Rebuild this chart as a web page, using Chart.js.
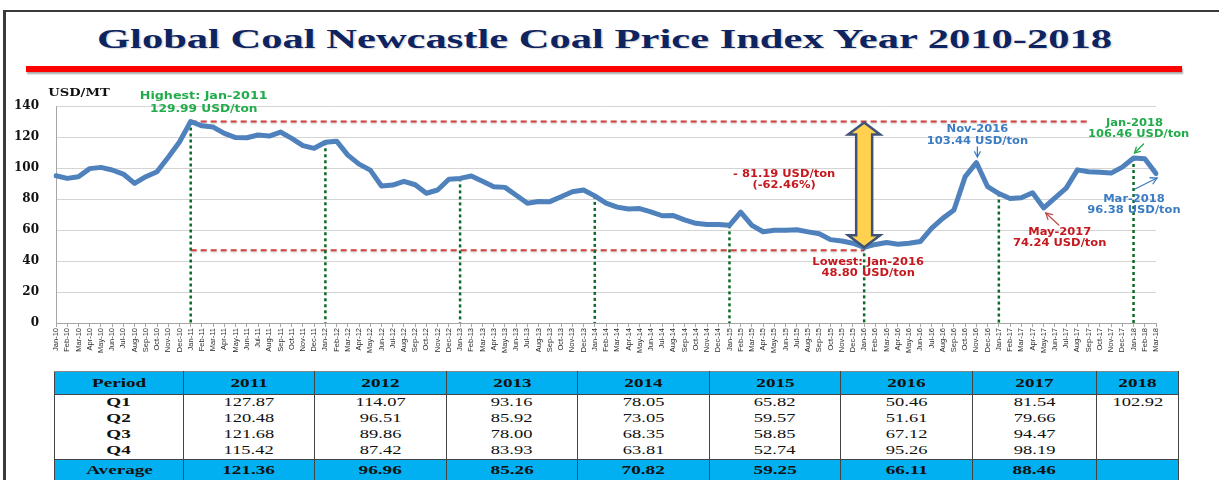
<!DOCTYPE html>
<html>
<head>
<meta charset="utf-8">
<script src="https://cdn.jsdelivr.net/npm/chart.js@4.4.1/dist/chart.umd.min.js"></script>
<style>
  html, body { margin:0; padding:0; background:#fff; }
  body { width:1219px; height:480px; position:relative; overflow:hidden; }
  #frameTop { position:absolute; left:3px; top:10px; width:1216px; height:2px; background:#3a3a3a; }
  #frameLeft { position:absolute; left:3px; top:10px; width:3px; height:470px; background:#3a3a3a; }
  #title { position:absolute; left:0; top:23px; width:1219px; height:34px; }
  #titleText { position:absolute; left:97px; top:0; white-space:nowrap; font-family:"Liberation Serif", serif; font-weight:bold; font-size:28px; color:#0e2461; transform-origin:0 0; text-shadow:1px 1px 1px rgba(0,0,0,0.15); }
  #redBar { position:absolute; left:26px; top:66px; width:1156px; height:6px; background:#ff0000; box-shadow:1px 2px 2px rgba(0,0,0,0.35); }
  #wrap { position:absolute; left:0; top:0; width:1219px; height:365px; }
  table { position:absolute; left:54px; top:371px; border-collapse:collapse; font-family:"Liberation Serif", serif; color:#111; }
  td, th { padding:0; text-align:center; border-left:1px solid #444; border-right:1px solid #444; overflow:hidden; white-space:nowrap; }
  th { background:#00b0f0; height:22px; font-weight:bold; font-size:13.5px; border-top:1px solid #888; border-bottom:1px solid #444; }
  tr.body td { height:16px; font-size:13px; line-height:14px; vertical-align:top; }
  tr.body td.lab { font-weight:bold; font-size:13.5px; }
  tr.avg td { background:#00b0f0; height:22px; font-weight:bold; font-size:13.5px; border-top:1px solid #444; vertical-align:top; line-height:20px; }
  .s { display:inline-block; transform:scaleX(1.42); }
</style>
</head>
<body>
<div id="frameTop"></div>
<div id="frameLeft"></div>
<div id="title"><span id="titleText">Global Coal Newcastle Coal Price Index Year 2010-2018</span></div>
<div id="redBar"></div>
<div id="wrap"><canvas id="c" width="1219" height="365"></canvas></div>
<table id="tbl"></table>
<script>
// ---------------- DATA ----------------
const categories = [
 "Jan-10","Feb-10","Mar-10","Apr-10","May-10","Jun-10","Jul-10","Aug-10","Sep-10","Oct-10","Nov-10","Dec-10",
 "Jan-11","Feb-11","Mar-11","Apr-11","May-11","Jun-11","Jul-11","Aug-11","Sep-11","Oct-11","Nov-11","Dec-11",
 "Jan-12","Feb-12","Mar-12","Apr-12","May-12","Jun-12","Jul-12","Aug-12","Sep-12","Oct-12","Nov-12","Dec-12",
 "Jan-13","Feb-13","Mar-13","Apr-13","May-13","Jun-13","Jul-13","Aug-13","Sep-13","Oct-13","Nov-13","Dec-13",
 "Jan-14","Feb-14","Mar-14","Apr-14","May-14","Jun-14","Jul-14","Aug-14","Sep-14","Oct-14","Nov-14","Dec-14",
 "Jan-15","Feb-15","Mar-15","Apr-15","May-15","Jun-15","Jul-15","Aug-15","Sep-15","Oct-15","Nov-15","Dec-15",
 "Jan-16","Feb-16","Mar-16","Apr-16","May-16","Jun-16","Jul-16","Aug-16","Sep-16","Oct-16","Nov-16","Dec-16",
 "Jan-17","Feb-17","Mar-17","Apr-17","May-17","Jun-17","Jul-17","Aug-17","Sep-17","Oct-17","Nov-17","Dec-17",
 "Jan-18","Feb-18","Mar-18"
];
const priceIndex = [
 95.0, 93.3, 94.4, 99.6, 100.4, 98.7, 96.1, 90.1, 94.4, 97.6, 106.9, 116.8,
 129.99, 127.2, 126.4, 122.3, 119.6, 119.5, 121.3, 120.6, 123.2, 119.1, 114.4, 112.7,
 116.6, 117.3, 108.3, 102.5, 98.6, 88.4, 89.0, 91.4, 89.2, 83.7, 85.8, 92.7,
 93.3, 94.8, 91.4, 87.9, 87.5, 82.4, 77.3, 78.4, 78.3, 81.5, 84.7, 85.8,
 82.0, 77.4, 74.75, 73.6, 73.8, 71.75, 69.2, 69.3, 66.55, 64.3, 63.6, 63.5,
 63.0, 71.5, 62.95, 58.9, 59.9, 59.9, 60.2, 58.8, 57.55, 53.8, 52.9, 51.5,
 48.80, 50.7, 51.88, 50.85, 51.45, 52.53, 61.0, 67.5, 72.86, 94.42, 103.44, 87.92,
 83.5, 80.3, 80.82, 84.0, 74.24, 80.74, 87.0, 98.8, 97.61, 97.3, 96.7, 100.57,
 106.46, 105.92, 96.38
];
const yTicks = [0, 20, 40, 60, 80, 100, 120, 140];
const januaryMarkers = ["Jan-11","Jan-12","Jan-13","Jan-14","Jan-15","Jan-16","Jan-17","Jan-18"];
const highestLevel = 130;
const lowestLevel = 47;

const tableYears = ["2011","2012","2013","2014","2015","2016","2017","2018"];
const quarterLabels = ["Q1","Q2","Q3","Q4"];
const q1Values = ["127.87","114.07","93.16","78.05","65.82","50.46","81.54","102.92"];
const q2Values = ["120.48","96.51","85.92","73.05","59.57","51.61","79.66",""];
const q3Values = ["121.68","89.86","78.00","68.35","58.85","67.12","94.47",""];
const q4Values = ["115.42","87.42","83.93","63.81","52.74","95.26","98.19",""];
const avgValues = ["121.36","96.96","85.26","70.82","59.25","66.11","88.46",""];

// ---------------- TITLE FIT ----------------
(function(){
  const t = document.getElementById('titleText');
  const w = t.getBoundingClientRect().width;
  t.style.transform = 'scaleX(' + (1015 / w) + ')';
})();

// ---------------- TABLE ----------------
(function(){
  const colW = [129, 131, 132, 131, 132, 131, 132, 124, 82];
  const tbl = document.getElementById('tbl');
  let html = '<colgroup>' + colW.map(w => '<col style="width:' + w + 'px">').join('') + '</colgroup>';
  html += '<tr><th><span class="s">Period</span></th>' + tableYears.map(y => '<th><span class="s">' + y + '</span></th>').join('') + '</tr>';
  const rows = [q1Values, q2Values, q3Values, q4Values];
  rows.forEach((r, i) => {
    html += '<tr class="body"><td class="lab"><span class="s">' + quarterLabels[i] + '</span></td>' +
      r.map(v => '<td><span class="s">' + v + '</span></td>').join('') + '</tr>';
  });
  html += '<tr class="avg"><td><span class="s">Average</span></td>' + avgValues.map(v => '<td><span class="s">' + v + '</span></td>').join('') + '</tr>';
  tbl.innerHTML = html;
  tbl.style.width = colW.reduce((a,b)=>a+b,0) + 'px';
  tbl.style.tableLayout = 'fixed';
})();

// ---------------- DRAW HELPERS ----------------
function sText(ctx, text, x, y, font, color, sx) {
  ctx.save();
  ctx.font = font; ctx.fillStyle = color;
  ctx.textAlign = 'center'; ctx.textBaseline = 'middle';
  ctx.translate(x, y); ctx.scale(sx, 1);
  ctx.fillText(text, 0, 0);
  ctx.restore();
}
function openArrow(ctx, x1, y1, x2, y2, color, head) {
  ctx.save();
  ctx.strokeStyle = color; ctx.lineWidth = 1.3; ctx.lineCap = 'round';
  ctx.beginPath(); ctx.moveTo(x1, y1); ctx.lineTo(x2, y2); ctx.stroke();
  const a = Math.atan2(y2 - y1, x2 - x1);
  ctx.beginPath();
  ctx.moveTo(x2 - head * Math.cos(a - 0.5), y2 - head * Math.sin(a - 0.5));
  ctx.lineTo(x2, y2);
  ctx.lineTo(x2 - head * Math.cos(a + 0.5), y2 - head * Math.sin(a + 0.5));
  ctx.stroke();
  ctx.restore();
}

const annotationPlugin = {
  id: 'annot',
  beforeDatasetsDraw(chart) {
    const ctx = chart.ctx, xs = chart.scales.x, ys = chart.scales.y;
    const iHigh = categories.indexOf("Jan-11");
    const iLowEnd = categories.indexOf("Jan-16");
    const iHighEnd = categories.indexOf("Sep-17");
    ctx.save();
    ctx.strokeStyle = '#d2413c'; ctx.lineWidth = 2; ctx.setLineDash([6, 4]);
    ctx.shadowColor = 'rgba(0,0,0,0.25)'; ctx.shadowBlur = 2; ctx.shadowOffsetY = 1;
    ctx.beginPath();
    ctx.moveTo(xs.getPixelForValue(iHigh), ys.getPixelForValue(highestLevel));
    ctx.lineTo(xs.getPixelForValue(iHighEnd), ys.getPixelForValue(highestLevel));
    ctx.moveTo(xs.getPixelForValue(iHigh), ys.getPixelForValue(lowestLevel));
    ctx.lineTo(xs.getPixelForValue(iLowEnd), ys.getPixelForValue(lowestLevel));
    ctx.stroke();
    ctx.shadowColor = 'transparent';
    ctx.strokeStyle = '#0d6a26'; ctx.lineWidth = 2.5; ctx.setLineDash([3, 3]);
    januaryMarkers.forEach(lbl => {
      const i = categories.indexOf(lbl);
      const x = xs.getPixelForValue(i);
      ctx.beginPath();
      ctx.moveTo(x, ys.getPixelForValue(priceIndex[i]));
      ctx.lineTo(x, ys.getPixelForValue(0));
      ctx.stroke();
    });
    ctx.restore();
  },
  afterDatasetsDraw(chart) {
    const ctx = chart.ctx, xs = chart.scales.x, ys = chart.scales.y;
    const P = lbl => { const i = categories.indexOf(lbl); return { x: xs.getPixelForValue(i), y: ys.getPixelForValue(priceIndex[i]) }; };
    const F = 'bold 10px "DejaVu Sans"';
    const SX = 1.15;

    sText(ctx, 'USD/MT', 79, 93, 'bold 10.5px "DejaVu Serif"', '#111', 1.25);

    const ax = xs.getPixelForValue(categories.indexOf("Jan-16"));
    const yTop = ys.getPixelForValue(highestLevel) + 1;
    const yBot = ys.getPixelForValue(priceIndex[categories.indexOf("Jan-16")]);
    const hw = 16, sw = 8, hl = 12;
    ctx.save();
    ctx.beginPath();
    ctx.moveTo(ax, yTop);
    ctx.lineTo(ax + hw, yTop + hl);
    ctx.lineTo(ax + sw, yTop + hl);
    ctx.lineTo(ax + sw, yBot - hl);
    ctx.lineTo(ax + hw, yBot - hl);
    ctx.lineTo(ax, yBot);
    ctx.lineTo(ax - hw, yBot - hl);
    ctx.lineTo(ax - sw, yBot - hl);
    ctx.lineTo(ax - sw, yTop + hl);
    ctx.lineTo(ax - hw, yTop + hl);
    ctx.closePath();
    ctx.fillStyle = '#ffd14f'; ctx.fill();
    ctx.strokeStyle = '#3f5378'; ctx.lineWidth = 2.5; ctx.lineJoin = 'miter'; ctx.stroke();
    ctx.restore();

    const h = P("Jan-11");
    sText(ctx, 'Highest: Jan-2011', h.x + 13, 96, F, '#22ab4b', 1.27);
    sText(ctx, '129.99 USD/ton', h.x + 13, 109, F, '#22ab4b', 1.22);

    sText(ctx, '- 81.19 USD/ton', ax - 80, 174, F, '#c4191f', SX);
    sText(ctx, '(-62.46%)', ax - 80, 185, F, '#c4191f', SX);

    sText(ctx, 'Lowest: Jan-2016', ax + 4, 262, F, '#c4191f', SX);
    sText(ctx, '48.80 USD/ton', ax + 4, 273, F, '#c4191f', SX);

    const n = P("Nov-16");
    sText(ctx, 'Nov-2016', n.x + 1, 129, F, '#3b7cc2', SX);
    sText(ctx, '103.44 USD/ton', n.x + 1, 141, F, '#3b7cc2', SX);
    openArrow(ctx, n.x + 1, 147, n.x + 1, 157, '#3b7cc2', 6);

    const j = P("Jan-18");
    sText(ctx, 'Jan-2018', j.x + 1, 123, F, '#22ab4b', SX);
    sText(ctx, '106.46 USD/ton', j.x + 5, 134, F, '#22ab4b', SX);
    openArrow(ctx, j.x + 10, 144, j.x + 1, 153, '#22ab4b', 6);

    const m = P("Mar-18");
    sText(ctx, 'Mar-2018', m.x - 22, 199, F, '#3b7cc2', SX);
    sText(ctx, '96.38 USD/ton', m.x - 22, 210, F, '#3b7cc2', SX);
    openArrow(ctx, m.x - 21, 189, m.x + 1, 178, '#3b7cc2', 7);

    const may = P("May-17");
    sText(ctx, 'May-2017', may.x + 16, 232, F, '#c4191f', SX);
    sText(ctx, '74.24 USD/ton', may.x + 16, 243, F, '#c4191f', SX);
    openArrow(ctx, may.x + 15, 225, may.x + 2, 213, '#c0504d', 7);
  }
};

new Chart(document.getElementById('c'), {
  type: 'line',
  data: {
    labels: categories,
    datasets: [{
      data: priceIndex,
      borderColor: '#4f81bd',
      borderWidth: 5,
      pointRadius: 0,
      tension: 0,
      borderJoinStyle: 'round',
      borderCapStyle: 'round',
      fill: false
    }]
  },
  options: {
    responsive: false,
    animation: false,
    layout: { padding: { left: 0, top: 106, right: 63, bottom: 0 } },
    plugins: { legend: { display: false }, tooltip: { enabled: false }, title: { display: false } },
    scales: {
      x: {
        offset: false,
        grid: { display: true, drawOnChartArea: false, drawTicks: true, tickLength: 4, color: '#a6a6a6' },
        border: { color: '#a6a6a6', width: 1 },
        ticks: { autoSkip: false, maxRotation: 90, minRotation: 90, padding: 1, color: '#2a2a2a', font: { family: '"Liberation Sans"', size: 7.5 } },
        afterFit(s) { s.height = 42; }
      },
      y: {
        min: 0, max: 140,
        afterBuildTicks(s) { s.ticks = yTicks.map(v => ({ value: v })); },
        grid: { color: '#d4d4d4', lineWidth: 1, drawTicks: false },
        border: { color: '#a6a6a6', width: 1 },
        ticks: { padding: 17, color: '#111', font: { family: '"DejaVu Serif"', weight: 'bold', size: 12 } },
        afterFit(s) { s.width = 56; }
      }
    }
  },
  plugins: [annotationPlugin]
});
</script>
</body>
</html>
